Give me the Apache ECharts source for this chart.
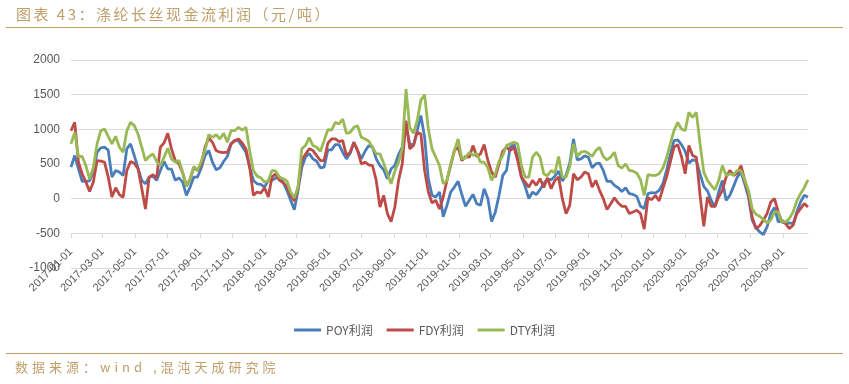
<!DOCTYPE html>
<html>
<head>
<meta charset="utf-8">
<script src="https://cdn.jsdelivr.net/npm/echarts@6/dist/echarts.min.js"></script>
<style>
html,body{margin:0;padding:0;background:#fff;}
#wrap{position:relative;width:849px;height:384px;overflow:hidden;}
#chart{position:absolute;left:0;top:0;width:849px;height:384px;}
.cap{position:absolute;font-family:"Noto Sans CJK SC","DejaVu Sans",sans-serif;color:#bf9f6a;white-space:nowrap;}
#title{left:16px;top:4px;font-size:15px;line-height:20px;letter-spacing:2.5px;}
#source{left:15px;top:357px;font-size:13px;line-height:20px;letter-spacing:4px;}
</style>
</head>
<body>
<div id="wrap">
<div id="chart"></div>
<div id="title" class="cap">图表 43：涤纶长丝现金流利润（元/吨）</div>
<div id="source" class="cap">数据来源：wind ,混沌天成研究院</div>
</div>
<script>
// weekly sampling grid
const startDate = '2017-01-01';
const stepDays = 7;
const endDate = '2020-10-18';
const tickLabels = ['2017-01-01','2017-03-01','2017-05-01','2017-07-01','2017-09-01','2017-11-01',
  '2018-01-01','2018-03-01','2018-05-01','2018-07-01','2018-09-01','2018-11-01',
  '2019-01-01','2019-03-01','2019-05-01','2019-07-01','2019-09-01','2019-11-01',
  '2020-01-01','2020-03-01','2020-05-01','2020-07-01','2020-09-01'];
const seriesNames = ['POY利润','FDY利润','DTY利润'];

const poy = [455,622,431,249,249,258,383,670,732,742,700,311,407,383,335,718,790,622,445,263,
  215,311,325,263,407,536,431,426,263,301,239,48,167,311,311,445,622,694,526,416,
  445,536,608,790,837,837,751,670,455,263,215,206,167,263,263,297,311,239,120,-24,
  -158,120,450,600,650,574,540,445,455,703,703,780,780,670,574,656,813,694,574,684,
  766,742,574,478,416,287,431,478,636,742,1053,790,766,980,1200,885,287,48,24,96,
  -260,-96,96,167,250,60,-110,-24,62,-72,-96,144,0,-330,-191,48,335,407,742,790,
  598,311,177,0,96,57,130,220,280,273,325,397,254,335,512,861,560,574,617,598,
  445,502,512,407,249,254,191,158,105,158,72,62,33,-110,-144,72,86,81,120,215,
  407,636,837,847,780,684,512,560,550,359,177,110,-24,-120,96,263,-24,48,177,311,
  383,215,24,-311,-416,-480,-520,-407,-215,-129,-335,-311,-359,-349,-359,-191,-48,48,24];

const fdy = [980,1100,526,359,239,105,239,550,540,526,311,24,158,60,20,407,536,512,431,150,
  -150,311,345,297,742,804,943,718,550,502,373,177,287,445,407,493,742,876,813,694,
  670,665,670,790,837,861,804,718,455,48,96,81,158,24,311,359,263,230,177,48,
  -33,158,560,640,720,694,622,550,550,799,861,861,823,837,622,670,813,694,502,526,
  488,478,263,-120,48,-215,-330,-120,263,502,1124,718,766,957,933,407,96,-62,-24,-150,
  24,263,478,694,742,550,608,598,766,608,646,780,550,383,311,502,684,742,694,742,
  550,311,239,167,263,191,290,160,300,144,263,311,0,-215,-96,359,273,311,383,359,
  167,263,120,0,-158,-72,14,-62,-110,-110,-215,-191,-167,-215,-440,14,-14,48,-33,144,
  311,526,742,780,608,359,766,622,598,48,-400,24,-110,-110,24,120,311,407,335,368,
  478,263,72,-263,-431,-392,-311,-215,-48,0,-191,-335,-359,-431,-383,-215,-144,-72,-120];

const dty = [790,957,608,608,478,287,450,790,980,1005,900,790,900,742,670,980,1100,1053,933,742,
  550,608,646,536,478,598,727,574,526,550,383,177,287,464,407,536,694,923,885,923,
  861,943,813,980,980,1029,990,1029,694,407,325,301,239,254,407,397,311,287,254,96,
  14,167,718,766,880,766,742,684,837,995,990,1100,1077,1148,943,957,1029,1053,885,861,
  828,742,646,646,512,359,215,397,526,718,1580,1029,943,1124,1421,1500,1005,718,598,478,
  215,263,502,694,861,574,589,670,622,656,526,526,445,263,359,540,622,766,790,813,
  790,478,311,311,598,670,600,360,330,407,368,608,311,311,464,790,608,670,684,656,
  608,694,742,608,560,598,670,478,440,502,407,397,368,273,48,345,335,335,359,440,
  589,790,980,1100,1005,980,1244,1172,1244,790,383,263,191,129,263,478,335,359,345,407,
  407,273,120,-144,-225,-254,-301,-349,-311,-191,-191,-335,-335,-287,-191,-33,72,158,273];

const DAY = 86400000;
function ts(s){const p=s.split('-');return Date.UTC(+p[0],+p[1]-1,+p[2]);}
function fmt(v){const d=new Date(v);const m=d.getUTCMonth()+1,dd=d.getUTCDate();
  return d.getUTCFullYear()+'-'+(m<10?'0':'')+m+'-'+(dd<10?'0':'')+dd;}
const t0 = ts(startDate);
function pairs(arr){return arr.map((v,i)=>[t0+i*stepDays*DAY, v]);}
const tickTs = tickLabels.map(ts);

const colors = ['#4a7ebb','#be4b48','#98b954'];
const chart = echarts.init(document.getElementById('chart'), null, {renderer:'canvas'});
const lineW = 2.8;
chart.setOption({
  animation:false,
  color:colors,
  grid:{left:71,right:41,top:60,bottom:116},
  graphic:[
    {type:'line',shape:{x1:6,y1:27.5,x2:843,y2:27.5},style:{stroke:'#c0a06a',lineWidth:1.2}},
    {type:'line',shape:{x1:6,y1:353.5,x2:843,y2:353.5},style:{stroke:'#c0a06a',lineWidth:1.2}}
  ],
  legend:{
    data:seriesNames, left:'center', top:319, icon:'rect', itemWidth:27, itemHeight:3, itemGap:14,
    textStyle:{fontSize:12,color:'#595959',fontFamily:'"Noto Sans CJK SC","Liberation Sans",sans-serif'}
  },
  xAxis:{
    type:'value', min:t0, max:ts(endDate), offset:-35,
    axisLine:{show:true,onZero:false,lineStyle:{color:'#d9d9d9',width:1}},
    axisTick:{show:true,length:5,lineStyle:{color:'#d9d9d9'},customValues:tickTs},
    axisLabel:{customValues:tickTs,formatter:fmt,rotate:45,margin:17,fontSize:11,color:'#595959',
      fontFamily:'"Liberation Sans","DejaVu Sans",sans-serif'},
    splitLine:{show:false}
  },
  yAxis:{
    type:'value', min:-1000, max:2000, interval:500,
    axisLine:{show:false}, axisTick:{show:false},
    axisLabel:{fontSize:12,color:'#595959',margin:11,formatter:function(v){return String(v);},
      fontFamily:'"Liberation Sans","DejaVu Sans",sans-serif'},
    splitLine:{lineStyle:{color:'#d9d9d9',width:1}}
  },
  series:[
    {name:seriesNames[0],type:'line',data:pairs(poy),showSymbol:false,symbol:'none',lineStyle:{width:lineW,color:colors[0]}},
    {name:seriesNames[1],type:'line',data:pairs(fdy),showSymbol:false,symbol:'none',lineStyle:{width:lineW,color:colors[1]}},
    {name:seriesNames[2],type:'line',data:pairs(dty),showSymbol:false,symbol:'none',lineStyle:{width:lineW,color:colors[2]}}
  ]
});
</script>
</body>
</html>
